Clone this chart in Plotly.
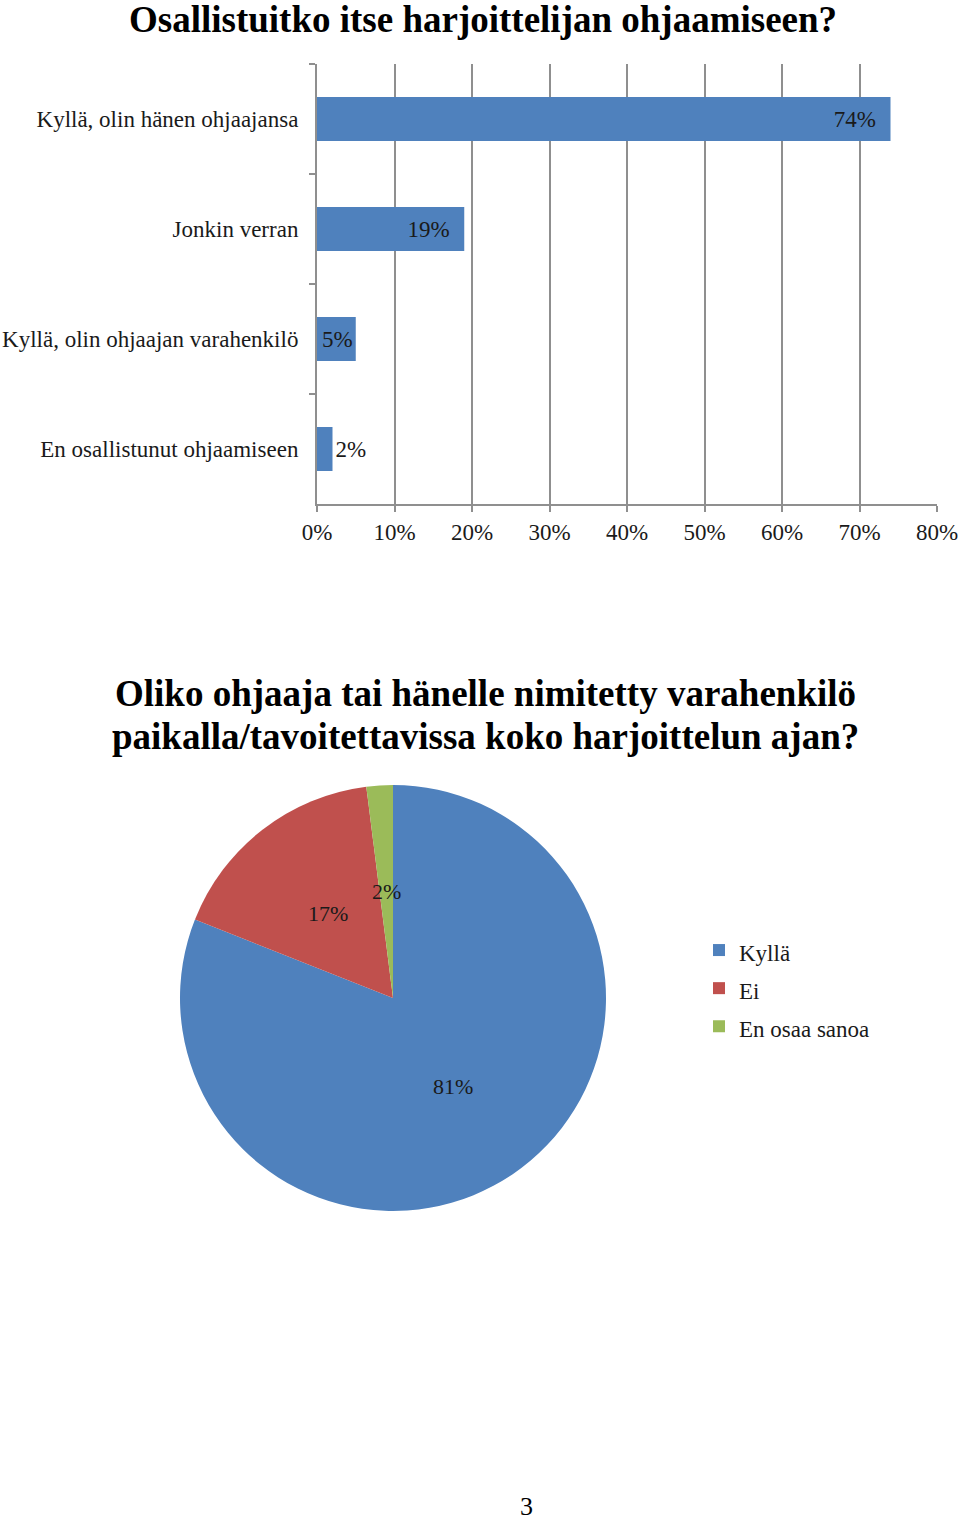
import math
import plotly.graph_objects as go

# ---------------- data ----------------
bar_categories = [
    "Kyllä, olin hänen ohjaajansa",
    "Jonkin verran",
    "Kyllä, olin ohjaajan varahenkilö",
    "En osallistunut ohjaamiseen",
]
bar_values = [74, 19, 5, 2]
x_ticks = [0, 10, 20, 30, 40, 50, 60, 70, 80]
x_tick_labels = ["0%", "10%", "20%", "30%", "40%", "50%", "60%", "70%", "80%"]

pie_labels = ["Kyllä", "Ei", "En osaa sanoa"]
pie_values = [81, 17, 2]

title_bar = "Osallistuitko itse harjoittelijan ohjaamiseen?"
title_pie_lines = [
    "Oliko ohjaaja tai hänelle nimitetty varahenkilö",
    "paikalla/tavoitettavissa koko harjoittelun ajan?",
]
page_number = "3"

# ---------------- style ----------------
W, H = 960, 1524
SERIF = "Liberation Serif, Times New Roman, serif"
BLUE, RED, GREEN = "#4F81BD", "#C0504D", "#9BBB59"
GRID = "#8f8f8f"
TXT = "#1a1a1a"
FS = 23

def py(pix):
    return 1 - pix / H

fig = go.Figure()

# bar chart
bar_text = ["%d%%\u00a0\u00a0" % v if v >= 10 else "%d%%" % v for v in bar_values]
bar_text_pos = ["inside" if v >= 5 else "outside" for v in bar_values]
fig.add_trace(go.Bar(
    x=bar_values, y=bar_categories, orientation="h",
    marker=dict(color=BLUE, line=dict(width=0)),
    text=bar_text, textposition=bar_text_pos,
    insidetextanchor="end", textangle=0, constraintext="none",
    textfont=dict(family=SERIF, size=FS, color=TXT),
    cliponaxis=False, showlegend=False, hoverinfo="skip",
))

# pie chart
pie_x0, pie_x1, pie_top, pie_bot = 180, 606, 785, 1211
legend_labels = ['<span style="font-size:%dpx">%s</span>' % (FS, l) for l in pie_labels]
fig.add_trace(go.Pie(
    labels=legend_labels, values=pie_values, sort=False,
    direction="clockwise", rotation=0,
    marker=dict(colors=[BLUE, RED, GREEN], line=dict(width=0)),
    textinfo="none", hoverinfo="skip",
    domain=dict(x=[pie_x0 / W, pie_x1 / W], y=[py(pie_bot), py(pie_top)]),
    showlegend=True,
))

# pie percentage labels at half radius on each slice's mid angle
R = (pie_x1 - pie_x0) / 2
cx = (pie_x0 + pie_x1) / 2
cy = (pie_top + pie_bot) / 2
total = sum(pie_values)
cum = 0
annotations = []
for v in pie_values:
    mid = (cum + v / 2) / total * 2 * math.pi
    cum += v
    dx = 0.5 * R * math.sin(mid)
    dy = 0.5 * R * math.cos(mid)
    annotations.append(dict(
        x=(cx + dx) / W, y=py(cy - dy), xref="paper", yref="paper",
        text="%d%%" % round(v / total * 100), showarrow=False,
        font=dict(family=SERIF, size=22, color=TXT),
        xanchor="center", yanchor="middle",
    ))

annotations.append(dict(
    x=483 / W, y=py(19), xref="paper", yref="paper", text="<b>%s</b>" % title_bar,
    showarrow=False, font=dict(family=SERIF, size=37, color="black"),
    xanchor="center", yanchor="middle"))
for i, line in enumerate(title_pie_lines):
    annotations.append(dict(
        x=485 / W, y=py(693 + 43 * i), xref="paper", yref="paper", text="<b>%s</b>" % line,
        showarrow=False, font=dict(family=SERIF, size=37, color="black"),
        xanchor="center", yanchor="middle"))
annotations.append(dict(
    x=526 / W, y=py(1523), xref="paper", yref="paper", text=page_number,
    showarrow=False, font=dict(family=SERIF, size=26, color="black"),
    xanchor="center", yanchor="bottom"))

fig.update_layout(
    width=W, height=H, margin=dict(l=0, r=0, t=0, b=0),
    paper_bgcolor="white", plot_bgcolor="white",
    font=dict(family=SERIF, color=TXT),
    bargap=0.6,
    xaxis=dict(
        domain=[317 / W, 937 / W], range=[0, 80], tickvals=x_ticks, ticktext=x_tick_labels,
        showgrid=True, gridcolor=GRID, gridwidth=2, zeroline=False,
        showline=True, linecolor=GRID, linewidth=2,
        ticks="outside", ticklen=6, tickcolor=GRID, tickwidth=2,
        tickfont=dict(family=SERIF, size=FS, color=TXT), fixedrange=True,
        automargin=False,
    ),
    yaxis=dict(
        domain=[py(504), py(64)], type="category", autorange="reversed",
        showgrid=False, zeroline=False,
        showline=True, linecolor=GRID, linewidth=2,
        ticks="outside", tickson="boundaries", ticklen=6, tickcolor=GRID, tickwidth=2,
        ticklabelstandoff=12,
        tickfont=dict(family=SERIF, size=FS, color=TXT), fixedrange=True,
        automargin=False,
    ),
    legend=dict(
        x=699 / W, y=py(926), xanchor="left", yanchor="top",
        font=dict(family=SERIF, size=27, color=TXT),
        bgcolor="rgba(0,0,0,0)", borderwidth=0,
    ),
    annotations=annotations,
)

fig.write_html("out.html")
